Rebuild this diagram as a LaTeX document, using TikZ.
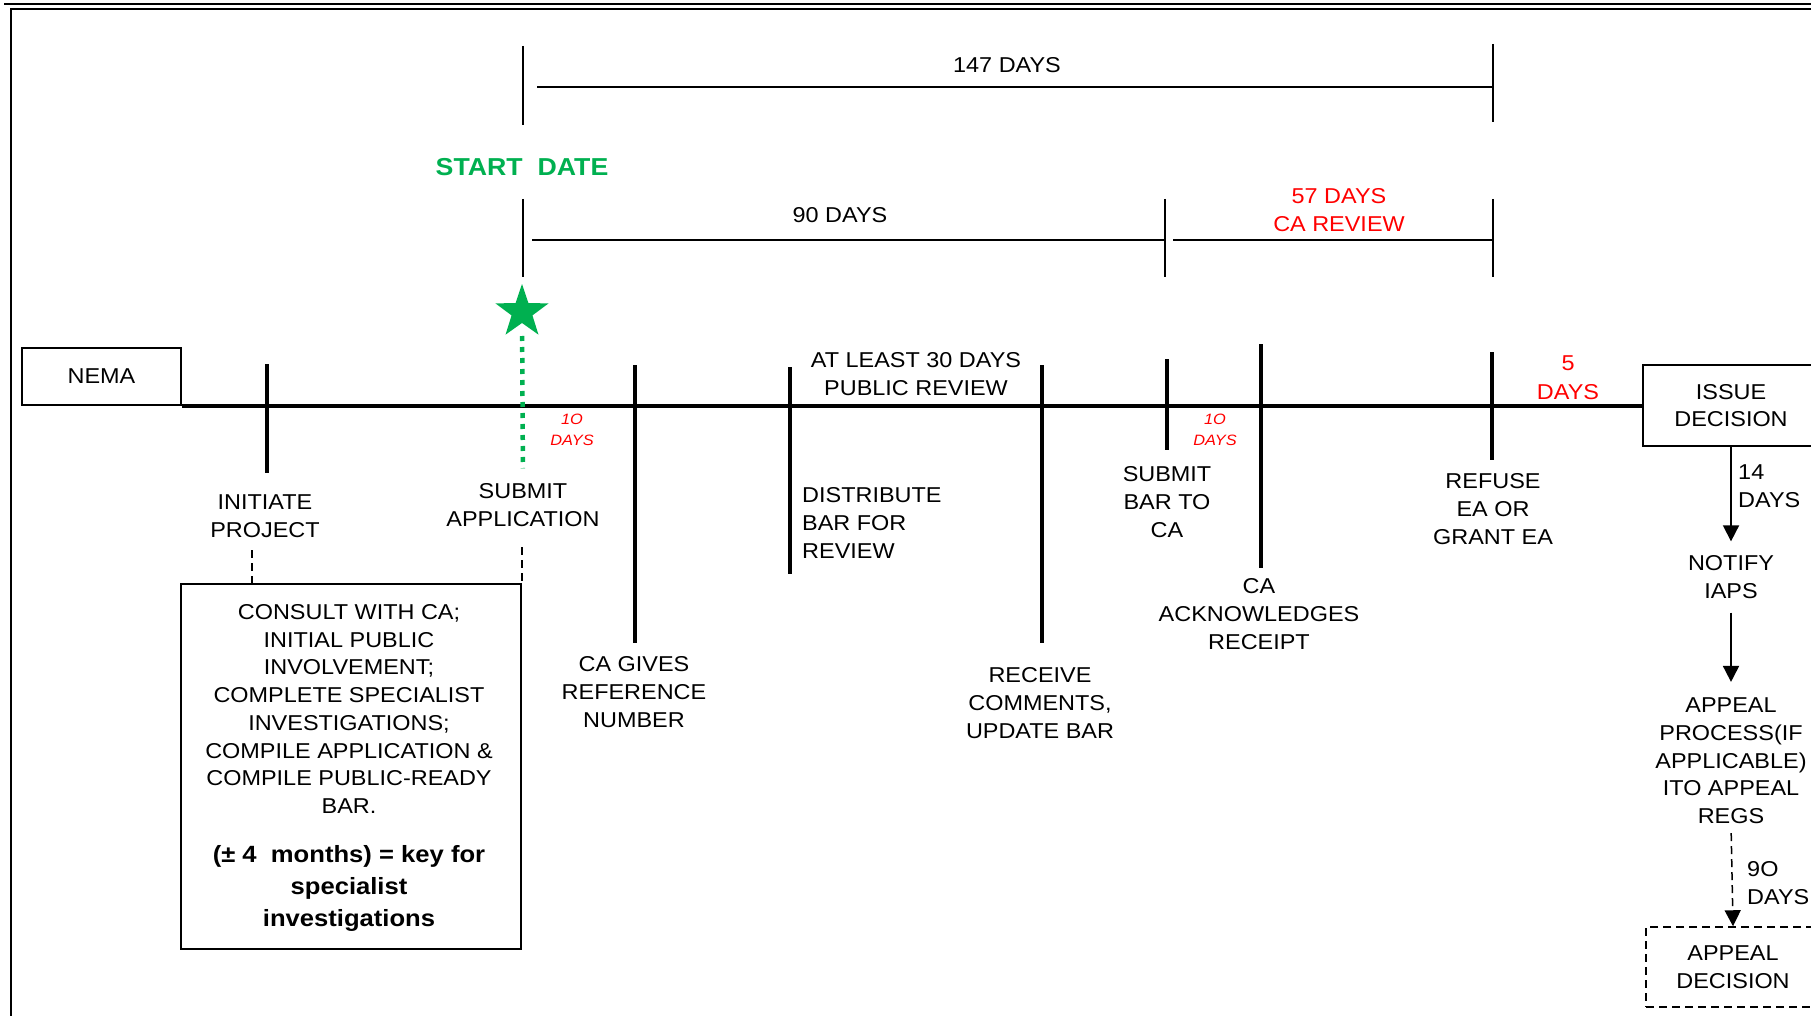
\documentclass[tikz,border=0pt]{standalone}
\usepackage{fontspec}
\setmainfont{Liberation Sans}[FakeStretch=1.09]
\usetikzlibrary{shapes.geometric,arrows.meta}
\definecolor{sgreen}{RGB}{0,176,80}
\definecolor{sred}{RGB}{255,0,0}
\newcommand\lbfont{\fontsize{21.5}{27.7}\selectfont}
\begin{document}
\begin{tikzpicture}[x=1pt,y=-1pt,
  lbl/.style={align=center,font=\lbfont,inner sep=0pt},
  tickline/.style={line width=3.5pt},
  dimline/.style={line width=2pt},
  boxed/.style={draw,line width=1.8pt},
  redsmall/.style={align=center,text=sred,font=\fontsize{15}{21}\selectfont\itshape,inner sep=0pt},
  arr/.style={line width=1.8pt,-{Triangle[length=16pt,width=16pt]}},
  dsh/.style={line width=1.5pt,dash pattern=on 8pt off 5pt},
  greendot/.style={line width=4.5pt,sgreen,dash pattern=on 5pt off 6pt}]
\useasboundingbox (0,0) rectangle (1811,1016);
% frame
\draw[line width=2.5pt] (4,4) -- (1811,4);
\draw[line width=1.5pt] (11,1016) -- (11,9) -- (1811,9);
% 147 days
\draw[dimline] (523,46) -- (523,125);
\draw[dimline] (537,87) -- (1493,87);
\draw[dimline] (1493,44) -- (1493,122);
\node[lbl] (d147) at (1007,65) {147 DAYS};
% start date
\node[inner sep=0pt,text=sgreen,font=\fontsize{24.5}{28}\selectfont\bfseries] (start) at (522,167) {START\ \ DATE};
% 90 / 57 days
\draw[dimline] (523,199) -- (523,277);
\draw[dimline] (532,240) -- (1165,240);
\draw[dimline] (1165,199) -- (1165,277);
\draw[dimline] (1173,240) -- (1493,240);
\draw[dimline] (1493,199) -- (1493,277);
\node[lbl] (d90) at (840,215) {90 DAYS};
\node[lbl,text=sred] (d57) at (1339,210) {57 DAYS\\CA REVIEW};
% NEMA and issue decision, timeline
\node[boxed,minimum width=159pt,minimum height=57pt,font=\lbfont,inner sep=0pt] (nema) at (101.5,376.5) {NEMA};
\node[boxed,lbl,minimum width=176pt,minimum height=81pt] (issue) at (1731,405.5) {ISSUE\\DECISION};
\draw[line width=4.5pt] (nema.south east) -- (nema.south east -| issue.west);
% labels
\node[lbl] (initiate) at (265,516) {INITIATE\\PROJECT};
\node[lbl] (submitapp) at (523,505) {SUBMIT\\APPLICATION};
\node[lbl] (cagives) at (634,692) {CA GIVES\\REFERENCE\\NUMBER};
\node[lbl,anchor=west,align=left] (distribute) at (802,523) {DISTRIBUTE\\BAR FOR\\REVIEW};
\node[lbl] (atleast) at (916,374) {AT LEAST 30 DAYS\\PUBLIC REVIEW};
\node[lbl] (receive) at (1040,703) {RECEIVE\\COMMENTS,\\UPDATE BAR};
\node[lbl] (submitbar) at (1167,502) {SUBMIT\\BAR TO\\CA};
\node[lbl] (caack) at (1259,614) {CA\\ACKNOWLEDGES\\RECEIPT};
\node[lbl] (refuse) at (1493,509) {REFUSE\\EA OR\\GRANT EA};
\node[lbl,text=sred,font=\fontsize{21.5}{29}\selectfont] (five) at (1568,378) {5\\DAYS};
\node[redsmall] (ten1) at (572,430) {1O\\DAYS};
\node[redsmall] (ten2) at (1215,430) {1O\\DAYS};
% ticks
\draw[tickline] (267,364) -- (267,473);
\draw[tickline] (635,365) -- (635,643);
\draw[tickline] (790,367) -- (790,574);
\draw[tickline] (1042,365) -- (1042,643);
\draw[tickline] (1167,359) -- (1167,450);
\draw[tickline] (1261,344) -- (1261,568);
\draw[tickline] (1492,352) -- (1492,460);
% star and green dotted line
\node[star,star points=5,star point ratio=2.55,fill=sgreen,minimum size=56pt,inner sep=0pt] (star) at (522,312) {};
\draw[greendot,shorten <=24pt,shorten >=15pt] (star.center) -- (submitapp.north);
% consult box
\node[boxed,minimum width=340pt,minimum height=365pt] (consult) at (351,766.5) {};
\node[lbl] (consulttext) at (349,709) {CONSULT WITH CA;\\INITIAL PUBLIC\\INVOLVEMENT;\\COMPLETE SPECIALIST\\INVESTIGATIONS;\\COMPILE APPLICATION \&\\COMPILE PUBLIC-READY\\BAR.};
\node[align=center,inner sep=0pt,font=\fontsize{23.5}{32}\selectfont\bfseries] (keytext) at (349,888) {(± 4\ \ months) = key for\\specialist\\investigations};
\coordinate (ip) at (252,550);
\draw[dsh] (ip) -- (ip |- consult.north);
\coordinate (sp) at (522,547);
\draw[dsh] (sp) -- (sp |- consult.north);
% right column
\node[lbl] (notify) at (1731,577) {NOTIFY\\IAPS};
\node[lbl] (appeal) at (1731,761) {APPEAL\\PROCESS(IF\\APPLICABLE)\\ITO APPEAL\\REGS};
\node[draw,lbl,dsh,minimum width=174pt,minimum height=80pt] (adec) at (1733,967) {APPEAL\\DECISION};
\draw[arr,shorten >=14pt] (issue.south) -- (notify.north);
\draw[arr,shorten <=14pt,shorten >=16pt] (notify.south) -- (appeal.north);
\draw[arr,dsh,shorten <=9pt] (appeal.south) -- (adec.north);
\node[lbl,anchor=west,align=left] (d14) at (1738,486) {14\\DAYS};
\node[lbl,anchor=west,align=left] (d9o) at (1747,883) {9O\\DAYS};
\end{tikzpicture}
\end{document}
